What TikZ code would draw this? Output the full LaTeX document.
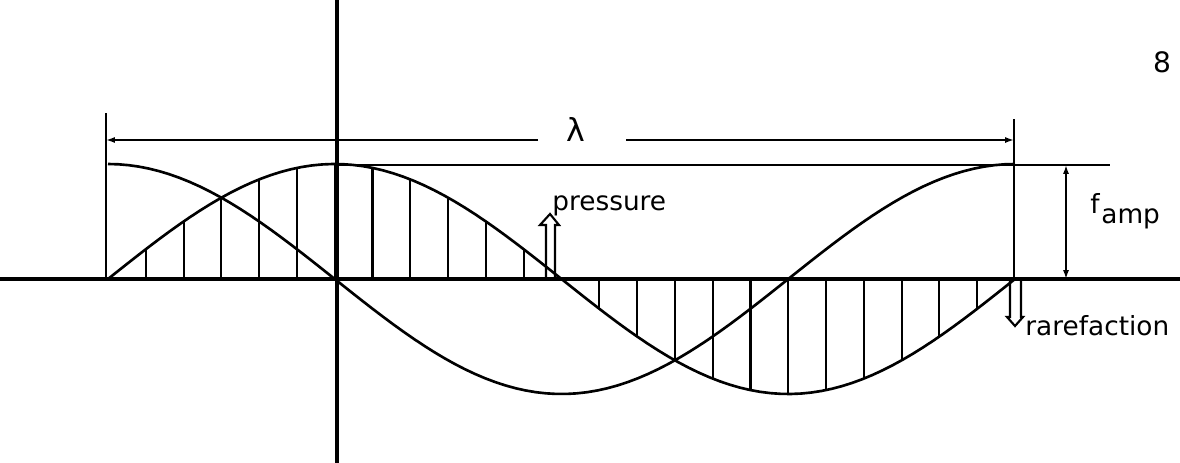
\documentclass[tikz,border=0pt]{standalone}
\usepackage{fontspec}
\setmainfont{DejaVu Sans}
\usetikzlibrary{arrows.meta}

\begin{document}
\begin{tikzpicture}[>={Latex[length=5pt,width=3.4pt]}, x=0.02cm, y=-0.02cm,
  axis/.style={line width=1.8pt},
  wave/.style={line width=1.5pt},
  hatch/.style={line width=1.2pt},
  dim/.style={line width=1.3pt},
  lbl/.style={font=\fontsize{15}{18}\selectfont, inner sep=0pt}]

  % parameters (sheet units, y going down)
  \def\xa{108}      % start of the wavelength
  \def\lam{907}     % wavelength
  \def\yo{279}      % level of the axis
  \def\amp{115}     % amplitude

  \useasboundingbox (0,0) rectangle (1180,463);

  % axes
  \draw[axis] (0,\yo) -- (1180,\yo);
  \draw[axis] (337,0) -- (337,463);

  % hatching between the axis and the sine
  \foreach \k in {1,...,23}
    \draw[hatch] ({\xa+\lam/24*\k},\yo) -- ({\xa+\lam/24*\k},{\yo-\amp*sin(15*\k)});

  % the two waves
  \draw[wave] plot[domain=0:360, samples=90] ({\xa+\lam/360*\x},{\yo-\amp*sin(\x)});
  \draw[wave] plot[domain=0:360, samples=90] ({\xa+\lam/360*\x},{\yo-\amp*cos(\x)});

  % level of the crest
  \coordinate (crest) at (337,165);
  \coordinate (crestR) at (1110,165);
  \draw[dim] (crest) -- (crestR);

  % wavelength
  \coordinate (tickL) at (106,113);
  \coordinate (tickR) at (1014,119);
  \draw[dim] (tickL) -- (106,\yo);
  \draw[dim] (tickR) -- (1014,\yo);
  \node[lbl, font=\fontsize{18}{20}\selectfont] (lambda) at (576,129) {λ};
  \coordinate (lamL) at (538,140);
  \coordinate (lamR) at (626,140);
  \draw[dim,->] (lamL) -- (106,140);
  \draw[dim,->] (lamR) -- (1014,140);

  % amplitude
  \coordinate (ampT) at (1066,165);
  \coordinate (ampB) at (1066,\yo);
  \draw[dim,<->] (ampT) -- (ampB);
  \node[lbl, anchor=base west] (famp) at (1090,213) {f\kern1pt\raisebox{-0.38em}{amp}};

  % pressure arrow
  \draw[hatch] (546,\yo) -- (546,225) -- (540,225) -- (550,214) -- (559,225) -- (555,225) -- (555,\yo);
  \node[lbl, anchor=base west] (pressure) at (552,210) {pressure};

  % rarefaction arrow
  \draw[hatch] (1010,\yo) -- (1010,317) -- (1007,317) -- (1015,326) -- (1023,317) -- (1021,317) -- (1021,\yo);
  \node[lbl, anchor=base west] (rarefaction) at (1025,335) {rarefaction};

  % page number
  \node[lbl, font=\fontsize{16}{18}\selectfont] (page) at (1162,62) {8};

\end{tikzpicture}
\end{document}
